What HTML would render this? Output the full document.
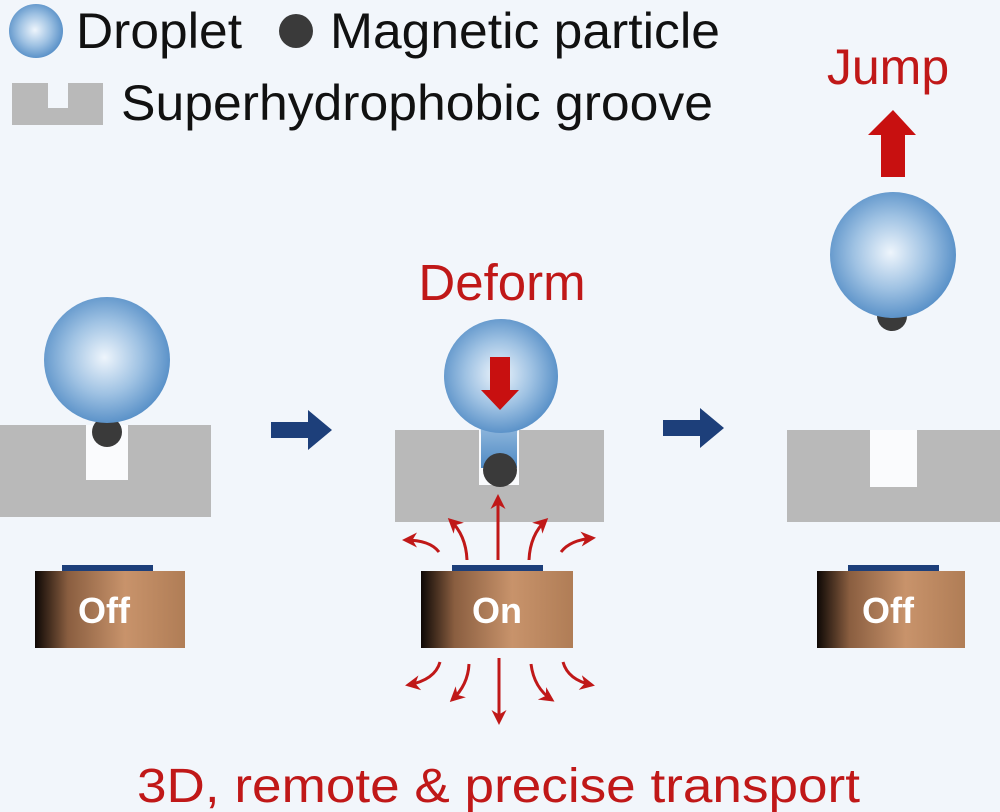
<!DOCTYPE html>
<html><head><meta charset="utf-8"><style>
html,body{margin:0;padding:0;background:#f2f6fb;}
svg{display:block;}
text{font-family:"Liberation Sans",Arial,sans-serif;}
</style></head><body>
<svg width="1000" height="812" viewBox="0 0 1000 812" xmlns="http://www.w3.org/2000/svg">
<defs>
<radialGradient id="drop" cx="0.48" cy="0.48" r="0.58">
<stop offset="0" stop-color="#eef5fc"/><stop offset="0.5" stop-color="#9fc2e3"/><stop offset="1" stop-color="#4a86c2"/>
</radialGradient>
<linearGradient id="mag" x1="0" x2="1" y1="0" y2="0">
<stop offset="0" stop-color="#0e0805"/><stop offset="0.22" stop-color="#8a5e40"/><stop offset="0.6" stop-color="#c8936b"/><stop offset="1" stop-color="#b07d56"/>
</linearGradient>
<linearGradient id="neck" x1="0" x2="0" y1="0" y2="1">
<stop offset="0" stop-color="#a9c9e6"/><stop offset="1" stop-color="#4f8ac4"/>
</linearGradient>
<marker id="ah" viewBox="0 0 10 10" refX="8" refY="5" markerWidth="5" markerHeight="5" orient="auto"><path d="M0,0 L10,5 L0,10 L3,5 z" fill="#c01818"/></marker>
</defs>
<rect width="1000" height="812" fill="#f2f6fb"/>

<!-- legend -->
<circle cx="36" cy="31" r="27" fill="url(#drop)"/>
<text x="76" y="48" font-size="50" fill="#111" textLength="166" lengthAdjust="spacingAndGlyphs">Droplet</text>
<circle cx="296" cy="31" r="17" fill="#3a3a3a"/>
<text x="330" y="48" font-size="50" fill="#111" textLength="390" lengthAdjust="spacingAndGlyphs">Magnetic particle</text>
<path d="M12,83 H48 V108 H68 V83 H103 V125 H12 Z" fill="#b9b9b9"/>
<text x="121" y="120" font-size="50" fill="#111" textLength="592" lengthAdjust="spacingAndGlyphs">Superhydrophobic groove</text>

<!-- left scene -->
<rect x="0" y="425" width="211" height="92" fill="#b9b9b9"/>
<rect x="86" y="425" width="42" height="55" fill="#fafbfd"/>
<circle cx="107" cy="432" r="15" fill="#3a3a3a"/>
<circle cx="107" cy="360" r="63" fill="url(#drop)"/>
<rect x="62" y="565" width="91" height="7" fill="#1d3f7a"/>
<rect x="35" y="571" width="150" height="77" fill="url(#mag)"/>
<text x="104" y="623" font-size="36" font-weight="bold" fill="#fff" text-anchor="middle">Off</text>

<!-- arrows -->
<path d="M271,422 H308 V410 L332,430 L308,450 V438 H271 Z" fill="#1d3f7a"/>
<path d="M663,420 H700 V408 L724,428 L700,448 V436 H663 Z" fill="#1d3f7a"/>

<!-- middle scene -->
<text x="502" y="300" font-size="51" fill="#c01818" text-anchor="middle">Deform</text>
<rect x="395" y="430" width="209" height="92" fill="#b9b9b9"/>
<rect x="479" y="430" width="40" height="55" fill="#fafbfd"/>
<path d="M476,410 Q481,420 481,435 V468 H517 V435 Q517,420 524,410 Z" fill="url(#neck)"/>
<circle cx="501" cy="376" r="57" fill="url(#drop)"/>
<circle cx="500" cy="470" r="17" fill="#3a3a3a"/>
<path d="M490,357 H510 V390 H519 L500,410 L481,390 H490 Z" fill="#c81010"/>
<rect x="452" y="565" width="91" height="7" fill="#1d3f7a"/>
<rect x="421" y="571" width="152" height="77" fill="url(#mag)"/>
<text x="497" y="623" font-size="36" font-weight="bold" fill="#fff" text-anchor="middle">On</text>
<g stroke="#c01818" stroke-width="3" fill="none" marker-end="url(#ah)">
<path d="M498,560 V497"/>
<path d="M467,560 Q466,535 450,520"/>
<path d="M439,552 Q430,540 405,540"/>
<path d="M529,560 Q530,535 546,520"/>
<path d="M561,552 Q570,540 593,538"/>
<path d="M499,658 V722"/>
<path d="M440,662 Q435,680 408,685"/>
<path d="M469,664 Q468,685 452,700"/>
<path d="M531,664 Q534,688 552,700"/>
<path d="M563,662 Q568,680 592,685"/>
</g>

<!-- right scene -->
<text x="888" y="84" font-size="50" fill="#c01818" text-anchor="middle">Jump</text>
<path d="M881,177 V135 H868 L893,110 L916,135 H905 V177 Z" fill="#c81010"/>
<circle cx="892" cy="316" r="15" fill="#3a3a3a"/>
<circle cx="893" cy="255" r="63" fill="url(#drop)"/>
<rect x="787" y="430" width="213" height="92" fill="#b9b9b9"/>
<rect x="870" y="430" width="47" height="57" fill="#fafbfd"/>
<rect x="848" y="565" width="91" height="7" fill="#1d3f7a"/>
<rect x="817" y="571" width="148" height="77" fill="url(#mag)"/>
<text x="888" y="623" font-size="36" font-weight="bold" fill="#fff" text-anchor="middle">Off</text>

<text x="137" y="802" font-size="48" fill="#c01818" textLength="723" lengthAdjust="spacingAndGlyphs">3D, remote &amp; precise transport</text>
</svg>
</body></html>
